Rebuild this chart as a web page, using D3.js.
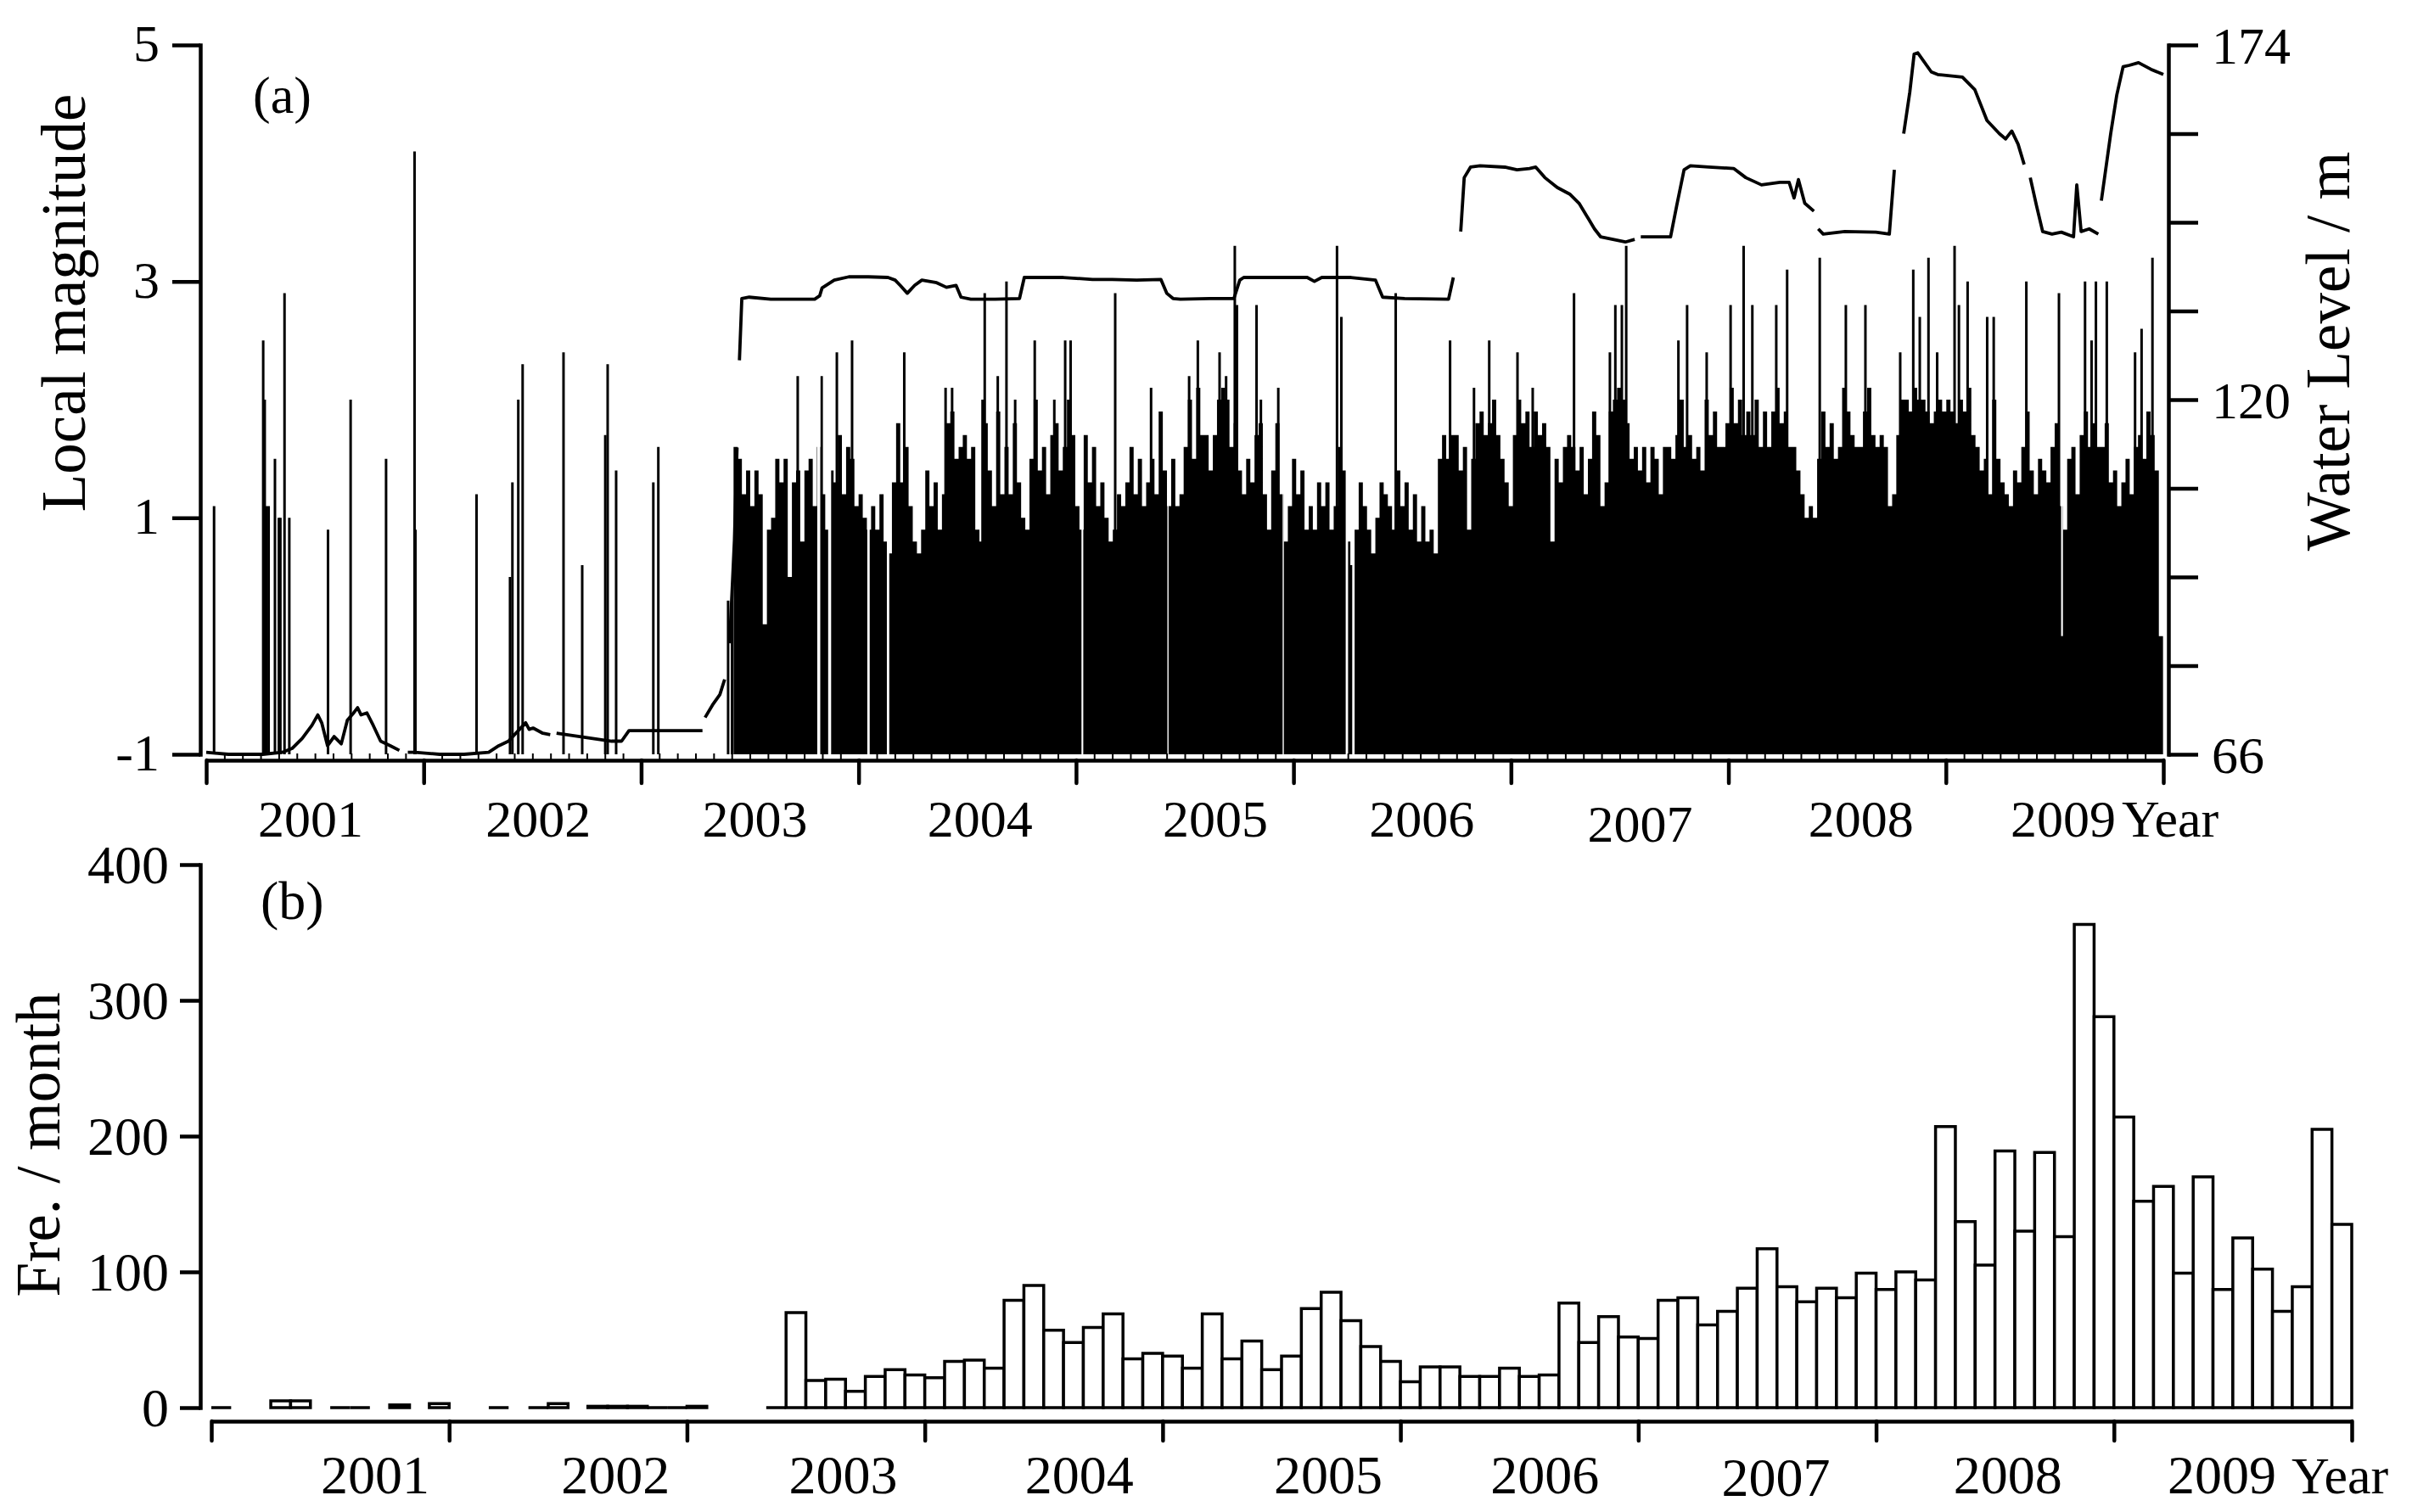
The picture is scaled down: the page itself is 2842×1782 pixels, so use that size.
<!DOCTYPE html>
<html><head><meta charset="utf-8">
<script src="https://cdn.jsdelivr.net/npm/d3@7"></script>
<style>
html,body{margin:0;padding:0;background:#fff;}
svg{display:block;background:#fff;}
text{font-family:"Liberation Serif","Times New Roman",Times,serif;fill:#000;}
</style></head><body>
<svg id="chart" width="2842" height="1782"></svg>
<script>
// ---------------- DATA ----------------
const yearTicks = [2001,2002,2003,2004,2005,2006,2007,2008,2009,2010];
const yearLabels = ["2001","2002","2003","2004","2005","2006","2007","2008","2009"];
const magTicks = [-1,1,3,5];
const waterTicks = [66,79.5,93,106.5,120,133.5,147,160.5,174];
const waterTickLabels = [66,120,174];
const freqTicks = [0,100,200,300,400];

// sparse events before the dense period (decimal year, local magnitude)
const sparseYears = [2001.036,2001.262,2001.269,2001.276,2001.287,2001.316,2001.334,2001.341,2001.360,2001.382,2001.560,2001.664,2001.827,2001.958,2001.962,2002.243,2002.397,2002.408,2002.435,2002.455,2002.643,2002.729,2002.835,2002.846,2002.885,2003.056,2003.079,2003.400,2003.418];
const sparseMags  = [1.1,2.5,2.0,1.1,1.1,1.5,1.0,1.0,2.9,1.0,0.9,2.0,1.5,4.1,0.9,1.2,0.5,1.3,2.0,2.3,2.4,0.6,1.7,2.3,1.4,1.3,1.6,0.3,0.3];

// dense period: weekly upper magnitude level, weeks starting 2003.425
const denseStart = 2003.425;
const weeklyMag = [
 1.6,1.5,1.2,1.4,1.1,1.4,1.2,0.1,0.9,1.0,1.5,1.3,1.5,0.5,1.3,1.4,0.8,1.4,1.5,1.1,1.6,1.2,0.9,1.4,1.3,1.7,1.2,1.6,1.5,1.1,
 1.2,1.0,0.9,1.1,0.9,1.2,0.8,0.7,1.3,1.8,1.3,1.6,1.1,0.8,0.7,0.9,1.4,1.1,1.3,0.9,1.2,1.8,1.9,1.5,1.6,1.7,1.5,1.6,0.9,0.8,1.8,1.4,1.1,1.9,1.2,1.6,1.2,1.8,1.3,1.0,0.9,1.5,2.0,1.4,1.6,1.2,1.7,1.8,1.4,1.6,2.0,1.7,
 1.1,0.9,1.7,1.3,1.6,1.1,1.3,1.0,0.8,0.9,1.2,1.1,1.3,1.6,1.2,1.5,1.1,1.3,1.5,1.2,1.9,1.4,1.1,1.5,1.1,1.2,1.6,2.0,1.5,2.1,1.7,1.7,1.4,1.7,2.0,2.1,2.0,1.6,1.8,1.4,1.2,1.5,1.3,1.7,1.8,1.2,0.9,1.4,1.8,1.2,0.8,1.1,1.5,
 1.2,1.4,0.9,1.1,0.9,1.3,1.1,1.3,0.9,1.1,1.6,1.4,0.8,0.6,0.9,1.3,1.1,0.9,0.7,1.0,1.3,1.2,1.1,0.9,1.4,1.1,1.3,0.9,1.2,0.8,1.1,0.8,0.9,0.7,1.5,1.7,1.5,1.7,1.7,1.4,1.6,0.9,1.5,1.8,1.9,1.7,
 1.8,2.0,1.7,1.5,1.3,1.1,1.7,2.0,1.8,1.9, 1.6,1.9,1.7,1.8,1.6,0.8,1.5,1.3,1.6,1.7,
 1.6,1.4,1.6,1.2,1.5,1.9,1.7,1.1,1.3,1.9, 2.0,2.1,2.0,1.8,1.5,1.6,1.4,1.6,1.3,1.6,
 1.5,1.2,1.6,1.6,1.5,1.7,2.0,1.6,1.7,1.5, 1.6,1.4,2.0,1.7,1.9,1.6,1.6,1.8,2.1,1.8,
 2.0,1.7,1.9,1.7,2.0,1.6,1.9,1.6,1.9,2.1, 1.8,1.9,1.6,1.6,1.4,1.2,1.0,1.1,1.0,1.5,
 1.9,1.6,1.8,1.5,1.6,2.1,1.9,1.7,1.6,1.6, 1.9,2.1,1.7,1.6,1.7,1.6,1.1,1.2,1.7,2.0,
 2.0,1.9,2.1,2.0,2.0,1.9,1.8,1.9,2.0,1.9, 2.0,1.9,1.8,2.0,1.9,2.1,1.7,1.6,1.4,1.5,
 1.2,2.0,1.5,1.3,1.2,1.1,1.4,1.3,1.6,1.9, 1.4,1.2,1.5,1.4,1.3,1.6,1.8,1.1,0.9,1.5,
 1.6,1.2,1.7,1.9,1.6,1.8,1.6,1.6,1.8,1.3, 1.4,1.1,1.3,1.5,1.2,1.6,1.7,1.5,1.9,1.7,
 1.4,0.0
];

// individual tall events in the dense period
const spikeYears = [2003.72,2003.83,2003.90,2003.97,2004.21,2004.40,2004.43,2004.57,2004.58,2004.64,2004.68,2004.72,2004.81,2004.90,2004.95,2004.975,2005.18,2005.345,2005.52,2005.56,2005.66,2005.69,2005.73,2005.74,2005.83,2005.85,2005.93,2006.20,2006.22,2006.47,2006.72,2006.83,2006.90,2007.03,2007.10,2007.29,2007.455,2007.48,2007.51,2007.53,2007.77,2007.81,2007.90,2008.01,2008.07,2008.11,2008.22,2008.27,2008.42,2008.54,2008.63,2008.79,2008.85,2008.88,2008.92,2008.96,2009.04,2009.06,2009.10,2009.19,2009.22,2009.37,2009.52,2009.64,2009.67,2009.69,2009.74,2009.87,2009.90,2009.95];
const spikeMags  = [2.2,2.2,2.4,2.5,2.4,2.1,2.1,2.0,2.9,2.2,3.0,2.0,2.5,2.0,2.5,2.5,2.9,2.1,2.2,2.5,2.4,2.2,3.3,2.8,2.8,2.0,2.1,3.3,2.7,2.9,2.5,2.1,2.5,2.4,2.1,2.9,2.4,2.8,2.8,3.3,2.5,2.8,2.4,2.8,3.3,2.8,2.8,3.1,3.2,2.8,2.8,2.4,3.1,2.7,3.2,2.4,3.3,2.8,3.0,2.7,2.7,3.0,2.9,3.0,2.5,3.0,3.0,2.4,2.6,3.2];

// days without events (decimal year, magnitude below which events still occur)
const gapYears = [2003.81,2003.86,2004.04,2004.13,2005.025,2005.42,2005.95,2006.24,2006.27,2009.53];
const gapFloor = [-1,-1,-1,-1,-1,-1,-1,-1,-1,0.0];
const gapDays  = [5,5,4,4,3,2,2,4,4,3];

// reservoir water level (decimal year, m); null = break in record
const waterYears = [
 2001.000,2001.102,2001.169,2001.260,2001.350,2001.395,2001.441,2001.486,2001.513,2001.531,2001.558,2001.588,2001.621,2001.649,2001.678,2001.696,2001.712,2001.739,2001.768,2001.802,2001.847,2001.888,null,2001.927,2001.960,2002.073,2002.186,2002.299,2002.345,2002.390,2002.435,2002.469,2002.485,2002.503,2002.548,2002.582,null,2002.611,2002.864,2002.910,2002.944,2003.000,2003.090,2003.282,null,2003.294,2003.328,2003.362,2003.384,null,2003.407,2003.429,2003.441,null,2003.452,2003.463,2003.497,
 2003.596,2003.798,2003.821,2003.832,2003.888,2003.955,2004.045,2004.135,2004.168,2004.191,2004.224,2004.258,2004.291,2004.359,2004.404,2004.448,2004.471,2004.516,2004.628,2004.740,2004.762,2004.830,2004.942,2005.076,2005.166,2005.278,2005.390,2005.417,2005.446,2005.480,2005.614,2005.726,2005.753,2005.771,2005.951,2006.063,2006.096,2006.130,2006.265,2006.377,2006.410,2006.511,2006.713,2006.735,null,2006.769,2006.785,2006.814,2006.858,2006.972,
 2007.028,2007.085,2007.114,2007.156,2007.213,2007.270,2007.313,2007.355,2007.384,2007.412,2007.469,2007.526,2007.569,null,2007.597,2007.668,2007.734,2007.762,2007.796,2007.825,2007.910,2008.024,2008.080,2008.152,2008.237,2008.279,2008.302,2008.322,2008.351,2008.393,null,2008.413,2008.436,2008.535,2008.678,2008.740,2008.763,null,2008.806,2008.834,2008.854,2008.871,2008.933,2008.962,2009.076,2009.133,2009.189,2009.246,2009.275,2009.303,2009.332,2009.360,null,2009.388,2009.417,2009.445,2009.488,2009.531,2009.587,2009.602,2009.622,2009.659,2009.701,null,2009.715,2009.758,2009.786,2009.815,2009.843,2009.886,2009.943,2010.000
];
const waterLevels = [
 66.3,66.0,66.0,66.0,66.3,66.9,68.4,70.4,72.0,70.8,67.3,68.7,67.6,71.2,72.3,73.1,72.0,72.3,70.4,68.0,67.3,66.6,null,66.3,66.3,66.0,66.0,66.3,67.3,68.0,69.6,70.8,69.8,70.0,69.2,69.0,null,69.2,68.0,68.0,69.6,69.6,69.6,69.6,null,71.6,73.5,75.1,77.4,null,82.9,98.6,112.7,null,126.0,135.4,135.6,
 135.3,135.3,135.8,137.0,138.2,138.7,138.7,138.6,138.2,137.4,136.2,137.4,138.2,137.8,137.1,137.4,135.6,135.3,135.3,135.4,138.6,138.6,138.6,138.3,138.3,138.2,138.3,136.2,135.4,135.3,135.4,135.4,138.2,138.6,138.6,138.6,138.0,138.6,138.6,138.2,135.6,135.4,135.3,138.6,null,145.6,153.8,155.4,155.6,155.4,
 155.0,155.2,155.4,153.8,152.3,151.3,149.9,147.6,146.0,144.8,144.4,144.0,144.4,null,144.8,144.8,144.8,149.5,155.0,155.6,155.4,155.2,153.8,152.7,153.1,153.1,150.7,153.5,149.9,148.7,null,146.0,145.2,145.6,145.5,145.2,155.0,null,160.5,166.8,172.6,172.8,169.9,169.5,169.1,167.2,162.5,160.5,159.7,160.9,158.9,155.8,null,153.8,149.5,145.6,145.2,145.5,144.8,152.7,145.6,146.0,145.2,null,150.3,160.5,166.4,170.7,170.9,171.3,170.3,169.5
];

// monthly event counts, Jan 2001 .. Dec 2009 (null = no bar)
const monthlyCounts = [
 0,null,null,5,5,null,0,0,null,2,null,3,
 null,null,0,null,0,3,null,1,1,1,0,0,
 1,null,null,null,0,70,20,21,12,23,28,24,
 22,34,35,29,79,90,57,48,59,69,36,40,
 38,29,69,36,49,28,38,73,85,64,45,34,
 19,30,30,23,23,29,23,24,77,48,67,52,
 51,79,81,61,71,88,117,89,78,88,81,99,
 87,100,94,207,137,105,189,130,188,126,356,288,
 214,152,163,99,170,87,125,102,71,89,205,135
];

// ---------------- STYLE / LAYOUT ----------------
const labelShiftA = [-5,7,6,15,36,23,24,28,10];
const labelShiftB = [53,56,44,42,55,30,22,15,-13];
const labelDropA  = [0,0,0,0,0,0,6,0,0];
const labelDropB  = [0,0,0,0,0,0,3,0,0];

const svg = d3.select("#chart");
const AX = 4.5;

const xA = d3.scaleLinear().domain([2001, 2010]).range([243, 2549]);
const yA = d3.scaleLinear().domain([-1, 5]).range([889, 53]);
const yW = d3.scaleLinear().domain([66, 174]).range([889, 53]);
const xB = d3.scaleLinear().domain([2001, 2010]).range([249, 2771]);
const yB = d3.scaleLinear().domain([0, 400]).range([1659, 1019]);

// ---------- panel (a) ----------
const gA = svg.append("g");
const weekLen = 7 / 365.25;
const envPts = weeklyMag.map((m, i) => ({t: denseStart + i * weekLen, m}));
envPts.push({t: Math.min(2010, denseStart + weeklyMag.length * weekLen), m: weeklyMag[weeklyMag.length - 1]});
gA.append("path").datum(envPts)
  .attr("d", d3.area().x(d => xA(d.t)).y0(yA(-1)).y1(d => yA(d.m)).curve(d3.curveStepAfter))
  .attr("fill", "#000");

gA.selectAll("line.spike").data(spikeYears.map((t, i) => ({t, m: spikeMags[i]})))
  .join("line").attr("class", "spike")
  .attr("x1", d => xA(d.t)).attr("x2", d => xA(d.t))
  .attr("y1", yA(-1)).attr("y2", d => yA(d.m))
  .attr("stroke", "#000").attr("stroke-width", 3);

gA.selectAll("rect.gap").data(gapYears.map((t, i) => ({t, f: gapFloor[i], d: gapDays[i]})))
  .join("rect").attr("class", "gap")
  .attr("x", d => xA(d.t)).attr("width", d => xA(d.t + d.d / 365.25) - xA(d.t))
  .attr("y", yA(2.3)).attr("height", d => yA(d.f) - yA(2.3))
  .attr("fill", "#fff");

gA.selectAll("line.ev").data(sparseYears.map((t, i) => ({t, m: sparseMags[i]})))
  .join("line").attr("class", "ev")
  .attr("x1", d => xA(d.t)).attr("x2", d => xA(d.t))
  .attr("y1", yA(-1)).attr("y2", d => yA(d.m))
  .attr("stroke", "#000").attr("stroke-width", 3);

const waterPts = waterYears.map((t, i) => ({t, w: waterLevels[i]}));
gA.append("path").datum(waterPts)
  .attr("d", d3.line().defined(d => d.w != null && d.t != null).x(d => xA(d.t)).y(d => yW(d.w)))
  .attr("fill", "none").attr("stroke", "#000").attr("stroke-width", 3.8)
  .attr("stroke-linejoin", "round");

// axes (a)
const gLA = svg.append("g").attr("transform", "translate(236,0)")
  .call(d3.axisLeft(yA).tickValues(magTicks).tickSize(33).tickSizeOuter(0).tickFormat(d => String(d)));
gLA.select(".domain").attr("stroke-width", AX).attr("stroke-linecap", "square");
gLA.selectAll(".tick line").attr("stroke-width", AX);
gLA.selectAll(".tick text").attr("font-size", 62).attr("x", -48).attr("dy", "0.3em");

const gRA = svg.append("g").attr("transform", "translate(2555,0)")
  .call(d3.axisRight(yW).tickValues(waterTicks).tickSize(35).tickSizeOuter(0)
    .tickFormat(d => waterTickLabels.includes(d) ? String(d) : ""));
gRA.select(".domain").attr("stroke-width", AX).attr("stroke-linecap", "square");
gRA.selectAll(".tick line").attr("stroke-width", AX);
gRA.selectAll(".tick text").attr("font-size", 62).attr("x", 51).attr("dy", "0.35em");

const monthTicks = d3.range(1, 108).filter(i => i % 12 !== 0).map(i => 2001 + i / 12);
const gMA = svg.append("g").attr("transform", "translate(0,896)")
  .call(d3.axisTop(xA).tickValues(monthTicks).tickSize(8).tickFormat(""));
gMA.select(".domain").remove();
gMA.selectAll(".tick line").attr("stroke-width", 2);

const gBA = svg.append("g").attr("transform", "translate(0,896)")
  .call(d3.axisBottom(xA).tickValues(yearTicks).tickSize(27).tickSizeOuter(0).tickFormat(""));
gBA.select(".domain").attr("stroke-width", AX);
gBA.selectAll(".tick line").attr("stroke-width", AX).attr("stroke-linecap", "round");

svg.append("g").selectAll("text").data(yearLabels).join("text")
  .attr("x", (d, i) => xA(yearTicks[i] + 0.5) + labelShiftA[i])
  .attr("y", (d, i) => 986 + labelDropA[i])
  .attr("text-anchor", "middle").attr("font-size", 62).text(d => d);
svg.append("text").attr("x", 2500).attr("y", 986).attr("font-size", 62).text("Year");

svg.append("text").attr("transform", "translate(100,357) rotate(-90)")
  .attr("text-anchor", "middle").attr("font-size", 73).text("Local magnitude");
svg.append("text").attr("transform", "translate(2768,414) rotate(-90)")
  .attr("text-anchor", "middle").attr("font-size", 73).text("Water Level / m");
svg.append("text").attr("x", 298).attr("y", 133).attr("font-size", 62).text("(a)");

// ---------- panel (b) ----------
const barData = monthlyCounts.map((v, i) => ({i, v})).filter(d => d.v != null);
svg.append("g").selectAll("path").data(barData).join("path")
  .attr("d", d => {
    const x0 = xB(2001 + d.i / 12), x1 = xB(2001 + (d.i + 1) / 12);
    const y0 = yB(0), y1 = yB(d.v);
    return `M${x0},${y0}V${y1}H${x1}V${y0}Z`;
  })
  .attr("fill", "#fff").attr("stroke", "#000").attr("stroke-width", 3.5)
  .attr("stroke-linejoin", "miter");

const gLB = svg.append("g").attr("transform", "translate(236,0)")
  .call(d3.axisLeft(yB).tickValues(freqTicks).tickSize(24).tickSizeOuter(0).tickFormat(d => String(d)));
gLB.select(".domain").attr("stroke-width", AX).attr("stroke-linecap", "square");
gLB.selectAll(".tick line").attr("stroke-width", AX);
gLB.selectAll(".tick text").attr("font-size", 64).attr("x", -37).attr("dy", "0.33em");

const gBB = svg.append("g").attr("transform", "translate(0,1675)")
  .call(d3.axisBottom(xB).tickValues(yearTicks).tickSize(23).tickSizeOuter(0).tickFormat(""));
gBB.select(".domain").attr("stroke-width", AX);
gBB.selectAll(".tick line").attr("stroke-width", AX).attr("stroke-linecap", "round");

svg.append("g").selectAll("text").data(yearLabels).join("text")
  .attr("x", (d, i) => xB(yearTicks[i] + 0.5) + labelShiftB[i])
  .attr("y", (d, i) => 1760 + labelDropB[i])
  .attr("text-anchor", "middle").attr("font-size", 64).text(d => d);
svg.append("text").attr("x", 2700).attr("y", 1760).attr("font-size", 62).text("Year");

svg.append("text").attr("transform", "translate(70,1349) rotate(-90)")
  .attr("text-anchor", "middle").attr("font-size", 73).text("Fre. / month");
svg.append("text").attr("x", 307).attr("y", 1083).attr("font-size", 64).text("(b)");
</script>
</body></html>
